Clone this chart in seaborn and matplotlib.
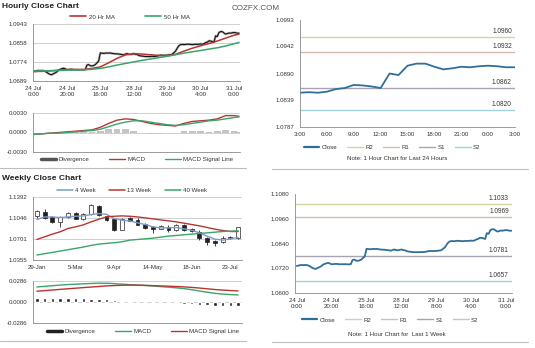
import numpy as np
import matplotlib
matplotlib.use("Agg")
import matplotlib.pyplot as plt
import seaborn as sns
from matplotlib.lines import Line2D

# ---------------- DATA ----------------
hourly_close = [
    1.0731, 1.0733, 1.0735, 1.0736, 1.0735, 1.0736, 1.0735, 1.0732, 1.0727, 1.0722,
    1.0718, 1.0717, 1.0722, 1.0725, 1.0730, 1.0737, 1.0741, 1.0744, 1.0746, 1.0743,
    1.0739, 1.0740, 1.0741, 1.0741, 1.0740, 1.0739, 1.0740, 1.0739, 1.0740, 1.0739,
    1.0739, 1.0740, 1.0760, 1.0762, 1.0757, 1.0756, 1.0758, 1.0762, 1.0770, 1.0778,
    1.0814, 1.0813, 1.0812, 1.0813, 1.0814, 1.0813, 1.0814, 1.0812, 1.0811, 1.0810,
    1.0810, 1.0809, 1.0808, 1.0807, 1.0805, 1.0809, 1.0811, 1.0808, 1.0807, 1.0809,
    1.0811, 1.0808, 1.0807, 1.0803, 1.0801, 1.0800, 1.0799, 1.0798, 1.0798, 1.0798,
    1.0798, 1.0799, 1.0798, 1.0799, 1.0800, 1.0802, 1.0804, 1.0804, 1.0803, 1.0804,
    1.0804, 1.0805, 1.0806, 1.0808, 1.0815, 1.0822, 1.0835, 1.0846, 1.0851, 1.0852,
    1.0851, 1.0852, 1.0853, 1.0853, 1.0852, 1.0851, 1.0852, 1.0853, 1.0852,
    1.0853, 1.0854, 1.0853, 1.0855, 1.0860, 1.0862, 1.0868, 1.0867, 1.0865, 1.0862,
    1.0890, 1.0887, 1.0905, 1.0909, 1.0909, 1.0903, 1.0898, 1.0900, 1.0903, 1.0902,
    1.0904, 1.0905, 1.0904, 1.0902, 1.0902,
]
hourly_tick_labels = ["24 Jul\n0:00", "24 Jul\n20:00", "25 Jul\n16:00", "28 Jul\n12:00",
                      "29 Jul\n8:00", "30 Jul\n4:00", "31 Jul\n0:00"]

# indicator samples (every 5 hours + last hour)
ma20 = [1.0731, 1.0732, 1.0734, 1.0737, 1.0740, 1.0740, 1.0740, 1.0745, 1.0752, 1.0770,
        1.0790, 1.0805, 1.0811, 1.0809, 1.0806, 1.0803, 1.0801, 1.0808, 1.0822, 1.0835,
        1.0846, 1.0856, 1.0867, 1.0880, 1.0893, 1.0898]
ma50 = [1.0734, 1.0734, 1.0735, 1.0736, 1.0737, 1.0738, 1.0739, 1.0741, 1.0745, 1.0752,
        1.0760, 1.0767, 1.0774, 1.0781, 1.0787, 1.0793, 1.0799, 1.0806, 1.0813, 1.0819,
        1.0825, 1.0831, 1.0837, 1.0845, 1.0855, 1.0861]
h_macd = [-0.0003, -0.0002, -0.0001, 0.0000, 0.0001, 0.0002, 0.0003, 0.0004, 0.0008, 0.0014,
          0.0019, 0.0021, 0.0020, 0.0017, 0.0014, 0.0012, 0.0011, 0.0010, 0.0014, 0.0017,
          0.0018, 0.0019, 0.0021, 0.0026, 0.0026, 0.0025]
h_signal = [-0.0003, -0.0002, -0.0001, -0.0001, 0.0000, 0.0001, 0.0002, 0.0003, 0.0005, 0.0009,
            0.0013, 0.0016, 0.0018, 0.0018, 0.0016, 0.0014, 0.0012, 0.0011, 0.0012, 0.0014,
            0.0016, 0.0018, 0.0019, 0.0021, 0.0023, 0.0024]
h_div = [0.0000, 0.0000, 0.0000, 0.0001, 0.0001, 0.0001, 0.0001, 0.0001, 0.0003, 0.0005,
         0.0006, 0.0005, 0.0002, -0.0001, -0.0002, -0.0002, -0.0001, -0.0001, 0.0002, 0.0003,
         0.0002, 0.0001, 0.0002, 0.0004, 0.0003, 0.0001]

day_tick_labels = ["3:00", "6:00", "9:00", "12:00", "15:00", "18:00", "21:00", "0:00", "3:00"]
day_levels = {"R2": 1.0960, "R1": 1.0932, "S1": 1.0862, "S2": 1.0820}
week_levels = {"R2": 1.1033, "R1": 1.0969, "S1": 1.0781, "S2": 1.0657}

w_open = [1.1081, 1.1146, 1.1064, 1.0983, 1.1064, 1.1130, 1.1037, 1.1108, 1.1239, 1.1075,
          1.1026, 1.0857, 1.1046, 1.1021, 1.0955, 1.0892, 1.0873, 1.0900, 1.0857, 1.0939,
          1.0870, 1.0819, 1.0710, 1.0666, 1.0644, 1.0737, 1.0710]
w_close = [1.1163, 1.1048, 1.0983, 1.1064, 1.1130, 1.1037, 1.1119, 1.1255, 1.1092, 1.1021,
           1.0857, 1.1026, 1.1000, 1.0939, 1.0884, 1.0870, 1.0912, 1.0857, 1.0939, 1.0857,
           1.0830, 1.0710, 1.0644, 1.0639, 1.0720, 1.0710, 1.0895]
w_high = [1.1185, 1.1201, 1.1086, 1.1075, 1.1150, 1.1145, 1.1135, 1.1283, 1.1266, 1.1092,
          1.1048, 1.1048, 1.1064, 1.1040, 1.0970, 1.0912, 1.0925, 1.0928, 1.0950, 1.0955,
          1.0880, 1.0846, 1.0737, 1.0682, 1.0748, 1.0748, 1.0905]
w_low = [1.1054, 1.1037, 1.0966, 1.0901, 1.1054, 1.1025, 1.1010, 1.1092, 1.1075, 1.0999,
         1.0835, 1.0846, 1.0990, 1.0925, 1.0870, 1.0803, 1.0860, 1.0819, 1.0840, 1.0835,
         1.0820, 1.0682, 1.0600, 1.0584, 1.0628, 1.0700, 1.0693]
wk4 = [1.1021, 1.1064, 1.1064, 1.1054, 1.1064, 1.1075, 1.1081, 1.1103, 1.1119, 1.1108,
       1.1037, 1.1010, 1.0999, 1.0966, 1.0939, 1.0901, 1.0884, 1.0884, 1.0890, 1.0868,
       1.0846, 1.0802, 1.0748, 1.0699, 1.0682, 1.0704, 1.0726]
wk13 = [1.0693, 1.0737, 1.0781, 1.0819, 1.0873, 1.0901, 1.0933, 1.0983, 1.1026, 1.1064,
        1.1075, 1.1081, 1.1075, 1.1064, 1.1048, 1.1032, 1.1015, 1.0999, 1.0983, 1.0961,
        1.0939, 1.0917, 1.0890, 1.0862, 1.0841, 1.0824, 1.0824]
wk40 = [1.0437, 1.0459, 1.0480, 1.0502, 1.0524, 1.0546, 1.0568, 1.0595, 1.0617, 1.0628,
        1.0639, 1.0655, 1.0682, 1.0693, 1.0704, 1.0715, 1.0731, 1.0748, 1.0759, 1.0770,
        1.0781, 1.0792, 1.0802, 1.0813, 1.0824, 1.0830, 1.0835]
w_macd = [0.0205, 0.0213, 0.0222, 0.0230, 0.0238, 0.0243, 0.0248, 0.0252, 0.0256, 0.0256,
          0.0250, 0.0243, 0.0236, 0.0230, 0.0224, 0.0218, 0.0210, 0.0202, 0.0193, 0.0182,
          0.0168, 0.0150, 0.0133, 0.0118, 0.0108, 0.0101, 0.0096]
w_signal = [0.0147, 0.0155, 0.0163, 0.0172, 0.0180, 0.0188, 0.0196, 0.0204, 0.0211, 0.0219,
            0.0224, 0.0228, 0.0230, 0.0230, 0.0227, 0.0223, 0.0219, 0.0215, 0.0211, 0.0206,
            0.0199, 0.0190, 0.0180, 0.0170, 0.0162, 0.0156, 0.0151]
w_div = [0.0058, 0.0058, 0.0057, 0.0055, 0.0054, 0.0052, 0.0050, 0.0047, 0.0043, 0.0035,
         0.0026, 0.0018, 0.0008, 0.0003, 0.0000, -0.0003, -0.0008, -0.0013, -0.0018, -0.0024,
         -0.0030, -0.0038, -0.0045, -0.0050, -0.0054, -0.0056, -0.0055]
week_tick_labels = ["29-Jan", "5-Mar", "9-Apr", "14-May", "18-Jun", "23-Jul"]

# ---------------- STYLE ----------------
sns.set_theme(style="white")
plt.rcParams['font.family'] = ['Liberation Sans', 'DejaVu Sans']
FS = 4.4
TXT = '#333333'
RED = '#b8352f'
GREEN = '#3aa56a'
BLUE4 = '#7b9dc8'
CLOSE = '#2f6f98'
LVL_COL = {"R2": '#d8d2a0', "R1": '#d9b9b0', "S1": '#aaa2b3', "S2": '#9fd2dc'}

W, H = 535, 348
fig = plt.figure(figsize=(W / 100, H / 100), dpi=100)
fig.patch.set_facecolor('white')


def box(l, t, r, b):
    return [l / W, 1 - b / H, (r - l) / W, (b - t) / H]


def style(ax, yticks, ylabels):
    ax.set_facecolor('white')
    for s in ['top', 'right']:
        ax.spines[s].set_visible(False)
    for s in ['left', 'bottom']:
        ax.spines[s].set_color('#8a8a8a')
        ax.spines[s].set_linewidth(0.6)
    ax.set_yticks(yticks)
    ax.set_yticklabels(ylabels, fontsize=FS, color=TXT)
    ax.yaxis.grid(True, color='#c9c9c9', lw=0.6)
    ax.xaxis.grid(False)
    ax.set_axisbelow(True)
    ax.tick_params(axis='both', length=2, width=0.5, pad=1.5, colors='#8a8a8a',
                   labelcolor=TXT, labelsize=FS)
    ax.tick_params(axis='y', length=0, pad=4)
    ax.set_xlabel('')
    ax.set_ylabel('')


def legend(handles, labels, cx, cy, ncol, spacing=3.0):
    fig.legend(handles, labels, loc='center', bbox_to_anchor=(cx / W, 1 - cy / H),
               bbox_transform=fig.transFigure, ncol=ncol, frameon=False, fontsize=FS,
               handlelength=2.6, columnspacing=spacing, handletextpad=0.4,
               borderaxespad=0, labelcolor=TXT)


hx = np.arange(len(hourly_close))
ma_x = list(range(0, 121, 5)) + [len(hourly_close) - 1]

# ---- titles ----
fig.text(2 / W, 1 - 7 / H, "Hourly Close Chart", fontsize=6, fontweight='bold', color='#222', va='center')
fig.text(2 / W, 1 - 178 / H, "Weekly Close Chart", fontsize=6, fontweight='bold', color='#222', va='center')
fig.text(232 / W, 1 - 8 / H, "COZFX.COM", fontsize=5.8, color='#555', va='center')

# ---- hourly price (top-left) ----
ax1 = fig.add_axes(box(33, 24, 240, 81))
sns.lineplot(x=hx, y=hourly_close, ax=ax1, color='#9a9a9a', lw=1.8, alpha=0.7)
sns.lineplot(x=hx, y=hourly_close, ax=ax1, color='#111111', lw=0.8)
sns.lineplot(x=ma_x, y=ma20, ax=ax1, color=RED, lw=1.1)
sns.lineplot(x=ma_x, y=ma50, ax=ax1, color=GREEN, lw=1.1)
ax1.set_xlim(-0.3, 123.6)
ax1.set_ylim(1.0689, 1.0943)
style(ax1, [1.0689, 1.0774, 1.0858, 1.0943], ["1.0689", "1.0774", "1.0858", "1.0943"])
ax1.set_xticks(range(0, 121, 20))
ax1.set_xticklabels(hourly_tick_labels, fontsize=FS, color=TXT, linespacing=1.4)
legend([Line2D([], [], color=RED, lw=1.2), Line2D([], [], color=GREEN, lw=1.2)],
       ["20 Hr MA", "50 Hr MA"], 130, 17, 2, 5)

# ---- hourly MACD ----
ax2 = fig.add_axes(box(33, 113, 240, 152))
ax2.bar(ma_x, h_div, width=4, color='#c4c4c4', linewidth=0)
sns.lineplot(x=ma_x, y=h_macd, ax=ax2, color=RED, lw=1.0)
sns.lineplot(x=ma_x, y=h_signal, ax=ax2, color=GREEN, lw=1.0)
ax2.set_xlim(-0.3, 123.6)
ax2.set_ylim(-0.0030, 0.0030)
style(ax2, [-0.0030, 0.0, 0.0030], ["-0.0030", "0.0000", "0.0030"])
ax2.set_xticks([])
legend([Line2D([], [], color='#555555', lw=2.5), Line2D([], [], color=RED, lw=1.0),
        Line2D([], [], color=GREEN, lw=1.0)],
       ["Divergence", "MACD", "MACD Signal Line"], 137, 159, 3, 3.2)

# ---- last 24 hours (top-right) ----
day_close = hourly_close[-25:]
dx = np.arange(len(day_close))
ax3 = fig.add_axes(box(300, 20, 515, 127))
for k, v in day_levels.items():
    ax3.axhline(v, color=LVL_COL[k], lw=1.0)
    ax3.annotate(f"{v:.4f}", xy=(0.985, v), xycoords=ax3.get_yaxis_transform(),
                 xytext=(0, 1.5), textcoords='offset points', ha='right', va='bottom',
                 fontsize=FS + 0.3, color=TXT)
sns.lineplot(x=dx, y=day_close, ax=ax3, color=CLOSE, lw=1.3)
ax3.set_xlim(0, 24)
ax3.set_ylim(1.0787, 1.0993)
style(ax3, [1.0787, 1.0839, 1.0890, 1.0942, 1.0993],
      ["1.0787", "1.0839", "1.0890", "1.0942", "1.0993"])
ax3.yaxis.grid(False)
ax3.set_xticks(range(0, 25, 3))
ax3.set_xticklabels(day_tick_labels, fontsize=FS, color=TXT)
ax3.tick_params(axis='y', length=2, pad=2)
lvl_handles = [Line2D([], [], color=CLOSE, lw=1.6)] + [Line2D([], [], color=LVL_COL[k], lw=1.0) for k in day_levels]
legend(lvl_handles, ["Close"] + list(day_levels.keys()), 392, 147, 5, 1.6)
fig.text(397 / W, 1 - 159 / H, "Note: 1 Hour Chart for Last 24 Hours", fontsize=FS,
         color=TXT, ha='center', va='center')

# ---- last week hourly (bottom-right) ----
ax4 = fig.add_axes(box(295, 194, 512, 293))
for k, v in week_levels.items():
    ax4.axhline(v, color=LVL_COL[k], lw=1.0)
    ax4.annotate(f"{v:.4f}", xy=(0.985, v), xycoords=ax4.get_yaxis_transform(),
                 xytext=(0, 1.5), textcoords='offset points', ha='right', va='bottom',
                 fontsize=FS + 0.3, color=TXT)
sns.lineplot(x=hx, y=hourly_close, ax=ax4, color=CLOSE, lw=1.3)
ax4.set_xlim(-1, 123.4)
ax4.set_ylim(1.0600, 1.1080)
style(ax4, [1.0600, 1.0720, 1.0840, 1.0960, 1.1080],
      ["1.0600", "1.0720", "1.0840", "1.0960", "1.1080"])
ax4.yaxis.grid(False)
ax4.set_xticks(range(0, 121, 20))
ax4.set_xticklabels(hourly_tick_labels, fontsize=FS, color=TXT, linespacing=1.4)
ax4.tick_params(axis='y', length=2, pad=2)
legend(lvl_handles, ["Close"] + list(week_levels.keys()), 390, 320, 5, 1.6)
fig.text(397 / W, 1 - 334 / H, "Note: 1 Hour Chart for  Last 1 Week", fontsize=FS,
         color=TXT, ha='center', va='center')

# ---- weekly candles ----
wx = np.arange(len(w_open))
ax5 = fig.add_axes(box(33, 197, 242, 260))
ax5.vlines(wx, w_low, w_high, color='#222222', lw=0.6, zorder=2)
o = np.array(w_open)
c = np.array(w_close)
up = c >= o
ax5.bar(wx, np.abs(c - o), bottom=np.minimum(o, c), width=0.5,
        color=np.where(up, 'white', '#222222'), edgecolor='#222222', linewidth=0.5, zorder=3)
sns.lineplot(x=wx, y=wk4, ax=ax5, color=BLUE4, lw=1.0, zorder=4)
sns.lineplot(x=wx, y=wk13, ax=ax5, color=RED, lw=1.0, zorder=4)
sns.lineplot(x=wx, y=wk40, ax=ax5, color=GREEN, lw=1.0, zorder=4)
ax5.set_xlim(-0.5, 26.5)
ax5.set_ylim(1.0355, 1.1392)
style(ax5, [1.0355, 1.0701, 1.1046, 1.1392], ["1.0355", "1.0701", "1.1046", "1.1392"])
ax5.set_xticks(range(0, 26, 5))
ax5.set_xticklabels(week_tick_labels, fontsize=FS, color=TXT)
legend([Line2D([], [], color=BLUE4, lw=1.1), Line2D([], [], color=RED, lw=1.1),
        Line2D([], [], color=GREEN, lw=1.1)], ["4 Week", "13 Week", "40 Week"], 132, 190, 3, 2.2)

# ---- weekly MACD ----
ax6 = fig.add_axes(box(33, 281, 242, 323))
ax6.bar(wx, w_div, width=0.45, color='#222222', zorder=2)
sns.lineplot(x=wx, y=w_macd, ax=ax6, color=GREEN, lw=1.0)
sns.lineplot(x=wx, y=w_signal, ax=ax6, color=RED, lw=1.0)
ax6.set_xlim(-0.5, 26.5)
ax6.set_ylim(-0.0286, 0.0286)
style(ax6, [-0.0286, 0.0, 0.0286], ["-0.0286", "0.0000", "0.0286"])
ax6.set_xticks([])
legend([Line2D([], [], color='#222222', lw=2.5), Line2D([], [], color=GREEN, lw=1.0),
        Line2D([], [], color=RED, lw=1.0)],
       ["Divergence", "MACD", "MACD Signal Line"], 143, 331, 3, 3.2)

# ---- separators ----
for (x0, x1, y) in [(0, 246, 168), (272, 528, 169), (0, 246, 341), (272, 528, 342)]:
    fig.add_artist(Line2D([x0 / W, x1 / W], [1 - y / H, 1 - y / H], color='#bdbdbd', lw=0.8))

fig.savefig("out.png", dpi=100, facecolor='white')
